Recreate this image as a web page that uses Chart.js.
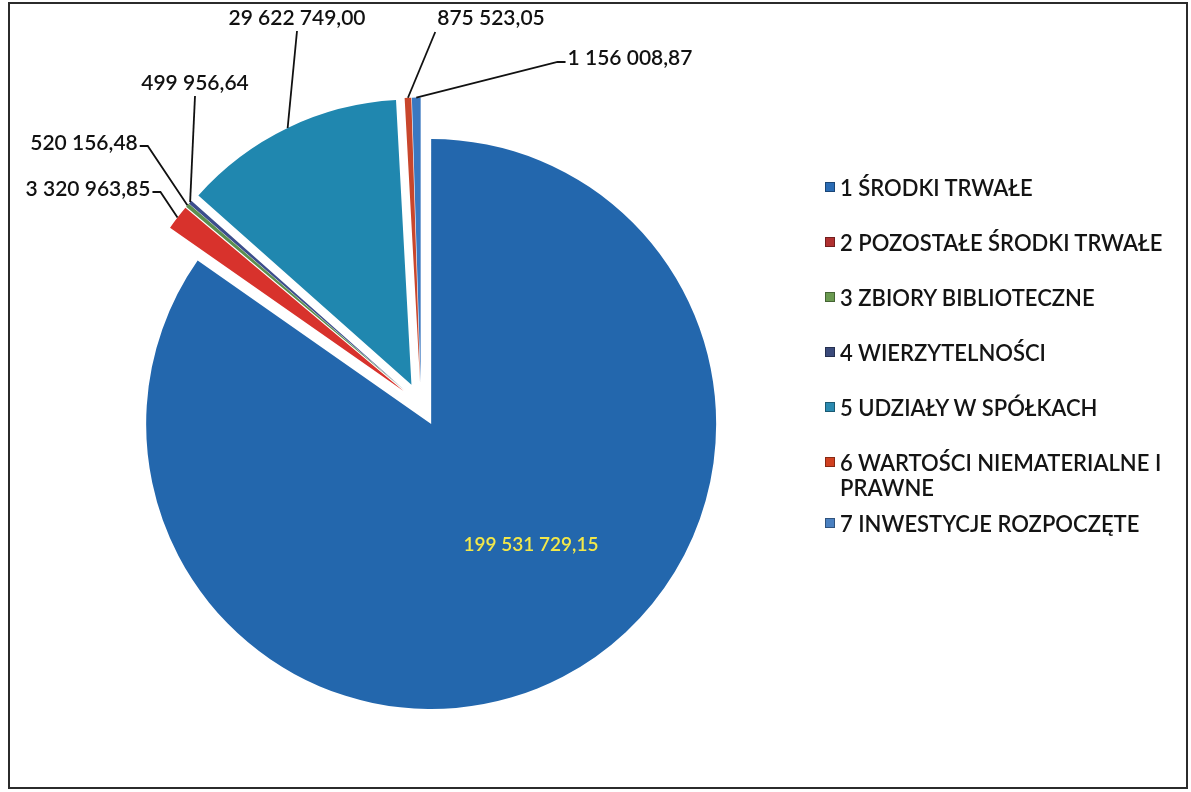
<!DOCTYPE html>
<html lang="pl">
<head>
<meta charset="utf-8">
<title>Struktura aktywów</title>
<script src="https://cdn.jsdelivr.net/npm/chart.js@4.4.0/dist/chart.umd.min.js"></script>
<style>
  body { margin: 0; background: #fff; font-family: Lato, "Open Sans", sans-serif; }
  #wrap { position: relative; width: 1191px; height: 792px; overflow: hidden; }
  #wrap canvas { position: absolute; left: 0; top: 0; }
  #ramka { position: absolute; left: 8px; top: 2px; width: 1176px; height: 783px; border: 2px solid #2b2b2b; pointer-events: none; }
  #legenda { position: absolute; left: 825px; top: 175px; }
  .poz { display: flex; align-items: flex-start; font-size: 22px; font-weight: 600; line-height: 25px; color: #141414; margin-bottom: 30px; }
  .poz .kw { width: 10px; height: 10px; margin: 7px 5px 0 0; flex: none; box-shadow: inset 0 0 0 1px rgba(0,0,0,.35); }
  .poz .tx { width: 350px; }
</style>
</head>
<body>
<div id="wrap">
  <canvas id="wykres" width="1191" height="792"></canvas>
  <div id="legenda"></div>
  <div id="ramka"></div>
</div>
<script>
// Dane wykresu
const kategorie = [
  '1 ŚRODKI TRWAŁE',
  '2 POZOSTAŁE ŚRODKI TRWAŁE',
  '3 ZBIORY BIBLIOTECZNE',
  '4 WIERZYTELNOŚCI',
  '5 UDZIAŁY W SPÓŁKACH',
  '6 WARTOŚCI NIEMATERIALNE I PRAWNE',
  '7 INWESTYCJE ROZPOCZĘTE'
];
const wartosci = [199531729.15, 3320963.85, 520156.48, 499956.64, 29622749.00, 875523.05, 1156008.87];

// Kolory wycinków i kwadracików legendy
const kolory = ['#2367ad', '#d8322c', '#5b8f4f', '#3c4e8c', '#2087af', '#c8462c', '#3a78c0'];
const koloryLegendy = ['#2a6cb5', '#b03030', '#6a9a50', '#3a4a7a', '#2a8ab0', '#d04020', '#4a80c0'];

// Położenie etykiet z wartościami (środek tekstu) i strona, z której wychodzi linia
const etykiety = [
  { x: 531, y: 545, strona: null },
  { x: 88, y: 189, strona: 'prawo' },
  { x: 84, y: 143, strona: 'prawo' },
  { x: 195, y: 83, strona: 'dol' },
  { x: 297, y: 18, strona: 'dol' },
  { x: 491, y: 18, strona: 'dolLewo' },
  { x: 630, y: 58, strona: 'lewo' }
];

const wysuniecie = 22; // odsunięcie wycinków od środka

// Format liczby: 1 156 008,87
function formatuj(v) {
  const [calk, dzies] = v.toFixed(2).split('.');
  return calk.replace(/\B(?=(\d{3})+(?!\d))/g, ' ') + ',' + dzies;
}

// Rysowanie wycinków z przesunięciem na zewnątrz
const wysunietePlugin = {
  id: 'wysuniete',
  beforeDatasetDraw(chart, args) {
    const ctx = chart.ctx;
    args.meta.data.forEach(arc => {
      const pol = (arc.startAngle + arc.endAngle) / 2;
      ctx.save();
      ctx.translate(Math.cos(pol) * wysuniecie, Math.sin(pol) * wysuniecie);
      arc.draw(ctx);
      ctx.restore();
    });
    return false;
  }
};

// Etykiety z liniami odniesienia
const etykietyPlugin = {
  id: 'etykiety',
  afterDatasetsDraw(chart) {
    const ctx = chart.ctx;
    const arcs = chart.getDatasetMeta(0).data;
    ctx.save();
    ctx.textAlign = 'center';
    ctx.textBaseline = 'middle';
    arcs.forEach((arc, i) => {
      const e = etykiety[i];
      const tekst = formatuj(wartosci[i]);
      ctx.font = '600 ' + (e.strona ? '21px' : '19px') + ' Lato, "Open Sans", sans-serif';
      const w = ctx.measureText(tekst).width;
      const pol = (arc.startAngle + arc.endAngle) / 2;
      const r = arc.outerRadius + wysuniecie;
      const px = arc.x + Math.cos(pol) * r;
      const py = arc.y + Math.sin(pol) * r;

      if (e.strona) {
        ctx.strokeStyle = '#111';
        ctx.lineWidth = 1.8;
        ctx.beginPath();
        if (e.strona === 'dol') {
          ctx.moveTo(e.x, e.y + 13);
        } else if (e.strona === 'dolLewo') {
          ctx.moveTo(e.x - w / 2 - 2, e.y + 14);
        } else if (e.strona === 'prawo') {
          ctx.moveTo(e.x + w / 2 + 2, e.y + 3);
          ctx.lineTo(e.x + w / 2 + 10, e.y + 3);
        } else if (e.strona === 'lewo') {
          ctx.moveTo(e.x - w / 2 - 2, e.y + 4);
          ctx.lineTo(e.x - w / 2 - 10, e.y + 4);
        }
        ctx.lineTo(px, py);
        ctx.stroke();
        ctx.fillStyle = '#111';
      } else {
        ctx.fillStyle = '#f3e84a';
      }
      ctx.fillText(tekst, e.x, e.y);
    });
    ctx.restore();
  }
};

new Chart(document.getElementById('wykres'), {
  type: 'pie',
  data: {
    labels: kategorie,
    datasets: [{
      data: wartosci,
      backgroundColor: kolory,
      borderWidth: 0,
      radius: 285
    }]
  },
  options: {
    responsive: false,
    animation: false,
    events: [],
    layout: { padding: { left: 0, right: 349, top: 17, bottom: 0 } },
    plugins: {
      legend: { display: false },
      tooltip: { enabled: false }
    }
  },
  plugins: [wysunietePlugin, etykietyPlugin]
});

// Legenda w HTML
const legenda = document.getElementById('legenda');
kategorie.forEach((k, i) => {
  const poz = document.createElement('div');
  poz.className = 'poz';
  if (i === 5) poz.style.marginBottom = '11px';
  poz.innerHTML = '<span class="kw" style="background:' + koloryLegendy[i] + '"></span><span class="tx">' + k + '</span>';
  legenda.appendChild(poz);
});
</script>
</body>
</html>
